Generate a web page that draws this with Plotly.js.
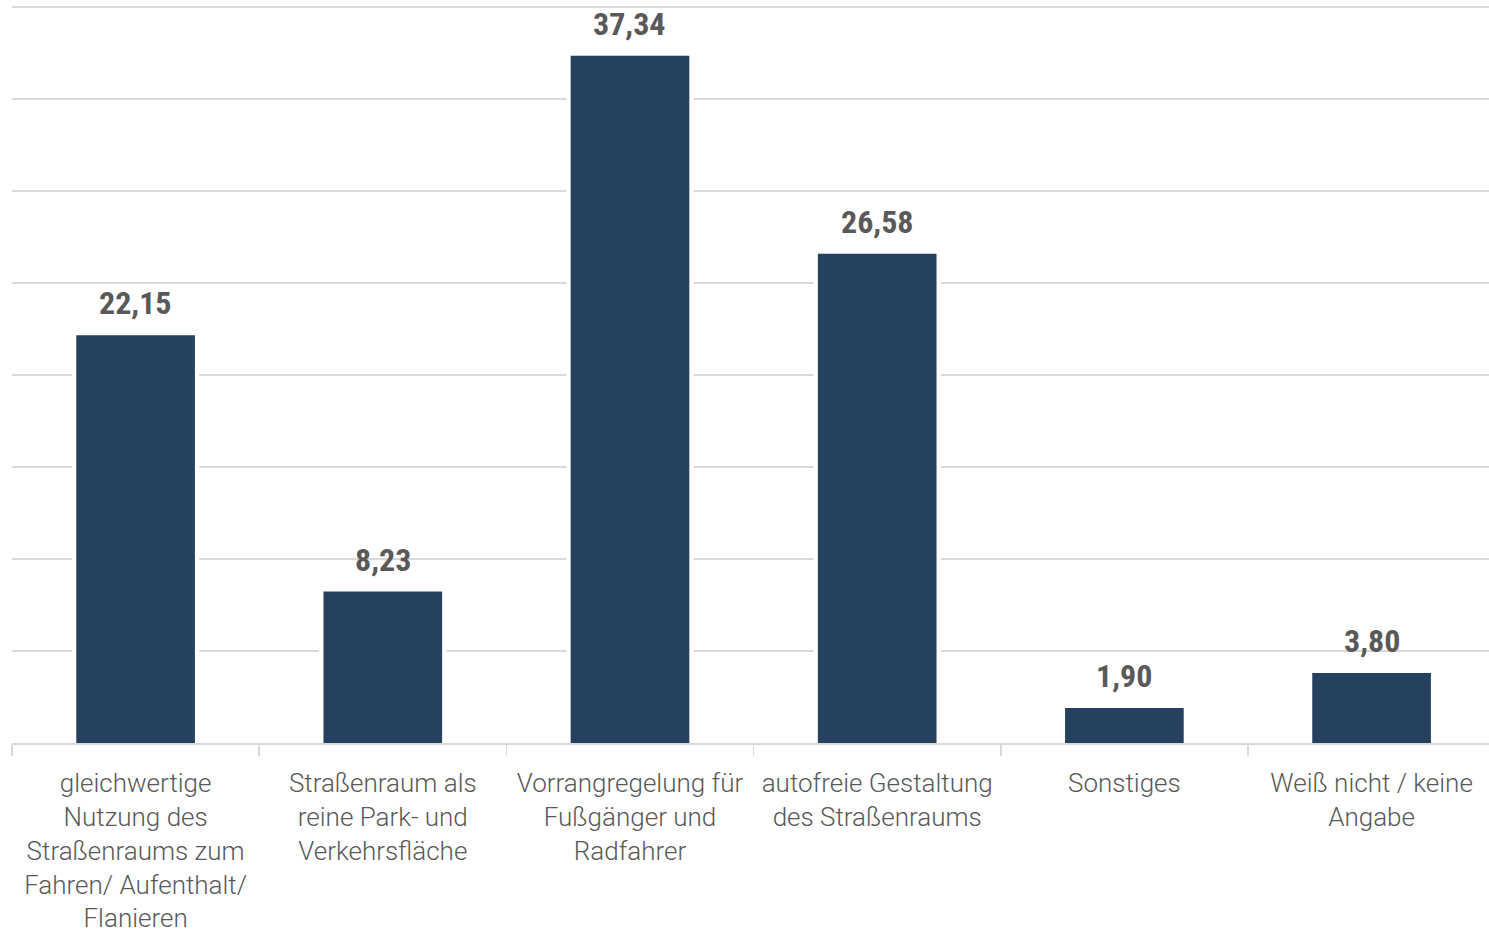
<!DOCTYPE html>
<html>
<head>
<meta charset="utf-8">
<script src="https://cdn.plot.ly/plotly-3.0.1.min.js"></script>
<style>html,body{margin:0;padding:0;background:#fff;}#chart{width:1489px;height:933px;}</style>
</head>
<body>
<div id="chart"></div>
<script>
const categories = [
  "gleichwertige<br>Nutzung des<br>Straßenraums zum<br>Fahren/ Aufenthalt/<br>Flanieren",
  "Straßenraum als<br>reine Park- und<br>Verkehrsfläche",
  "Vorrangregelung für<br>Fußgänger und<br>Radfahrer",
  "autofreie Gestaltung<br>des Straßenraums",
  "Sonstiges",
  "Weiß nicht / keine<br>Angabe"
];
const values = [22.15, 8.23, 37.34, 26.58, 1.90, 3.80];
const valueLabels = values.map(v => v.toFixed(2).replace('.', ','));

const barColor = '#264060';
const gridColor = '#d9d9d9';
const textColor = '#595959';

const traces = [
  { type: 'bar', x: categories, y: values, width: 0.515,
    marker: { color: '#ffffff' }, hoverinfo: 'skip', showlegend: false },
  { type: 'bar', x: categories, y: values, width: 0.48,
    marker: { color: barColor }, showlegend: false }
];

const annotations = categories.map((c, i) => ({
  x: c, y: values[i], xref: 'x', yref: 'y',
  text: valueLabels[i], showarrow: false,
  yanchor: 'bottom', yshift: 11,
  font: { family: '"Liberation Sans Narrow", "Roboto Condensed", Roboto, sans-serif', size: 32, weight: 700, color: textColor }
}));

const layout = {
  width: 1489, height: 933,
  margin: { l: 12, r: 0, t: 5, b: 190 },
  paper_bgcolor: '#ffffff', plot_bgcolor: '#ffffff',
  barmode: 'overlay',
  showlegend: false,
  xaxis: {
    type: 'category',
    range: [-0.5, 5.475],
    showline: true, linecolor: gridColor, linewidth: 2,
    ticks: 'outside', tickson: 'boundaries', ticklen: 11, tickcolor: gridColor, tickwidth: 1.5,
    showgrid: false,
    tickfont: { family: 'Roboto, sans-serif', size: 26, weight: 300, color: textColor },
    ticklabelstandoff: 16,
    tickangle: 0,
    fixedrange: true
  },
  yaxis: {
    range: [0, 40.1], tick0: 0, dtick: 5,
    showticklabels: false, ticks: '',
    showgrid: true, gridcolor: gridColor, gridwidth: 1.5,
    zeroline: false, showline: false,
    fixedrange: true
  },
  annotations: annotations
};

Plotly.newPlot('chart', traces, layout, { displayModeBar: false, staticPlot: true });
</script>
</body>
</html>
